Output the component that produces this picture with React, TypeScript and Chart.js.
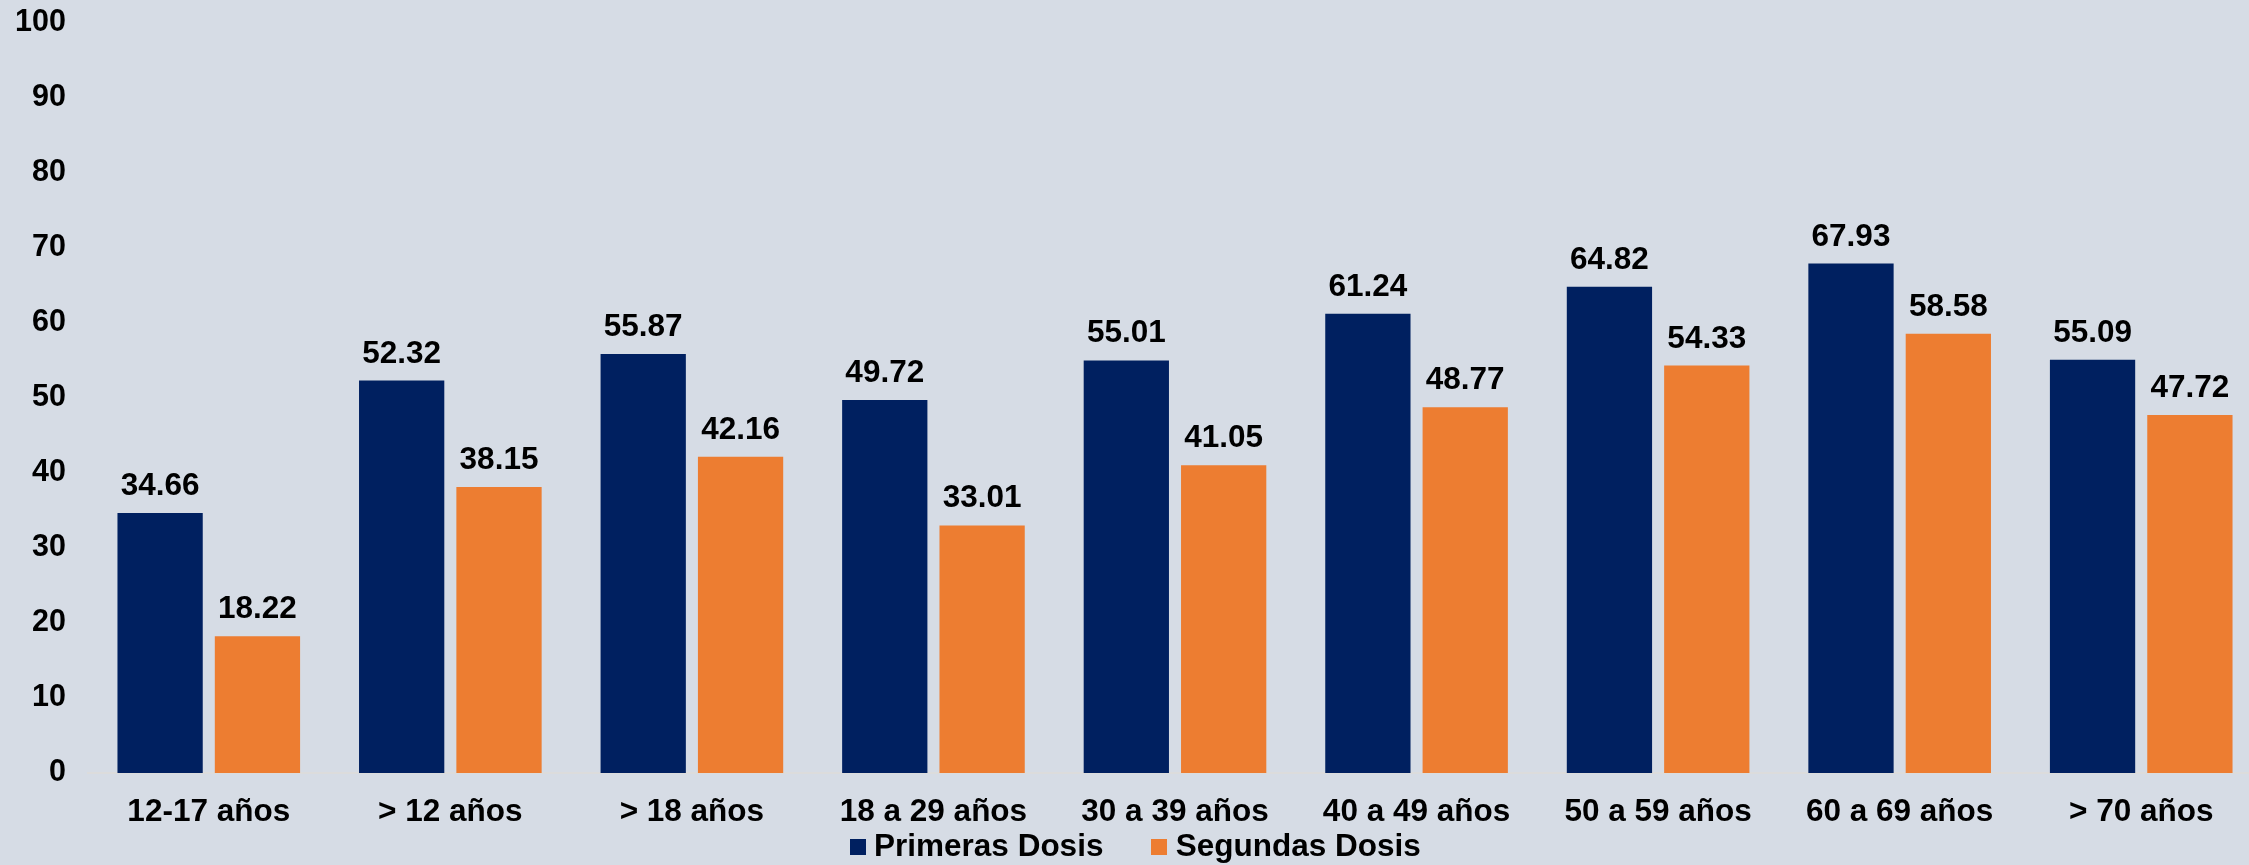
import React, { useEffect, useRef } from "react";
import { Chart, registerables } from "chart.js";

Chart.register(...registerables);

const categories = [
  "12-17 años",
  "> 12 años",
  "> 18 años",
  "18 a 29 años",
  "30 a 39 años",
  "40 a 49 años",
  "50 a 59 años",
  "60 a 69 años",
  "> 70 años",
];
const primerasDosis = [34.66, 52.32, 55.87, 49.72, 55.01, 61.24, 64.82, 67.93, 55.09];
const segundasDosis = [18.22, 38.15, 42.16, 33.01, 41.05, 48.77, 54.33, 58.58, 47.72];
const seriesNames = ["Primeras Dosis", "Segundas Dosis"];
const yMin = 0;
const yMax = 100;
const yStep = 10;

const FONT = "'Liberation Sans', Arial, Helvetica, sans-serif";
const NAVY = "#002060";
const ORANGE = "#ED7D31";
const BG = "#D6DCE5";
const seriesColors = [NAVY, ORANGE];

const CANVAS_W = 2262;
const CANVAS_H = 873;
const LEGEND_PAD = 55.5;
const FONT_SIZE = 31.5;
const PLOT_TOP = 23;
const PLOT_BOTTOM = 773;
const PAD_LEFT = 16;

const valueLabels = {
  id: "valueLabels",
  afterDatasetsDraw(chart: any) {
    const ctx = chart.ctx;
    ctx.save();
    ctx.font = `bold ${FONT_SIZE}px ${FONT}`;
    ctx.fillStyle = "#000000";
    ctx.textAlign = "center";
    ctx.textBaseline = "alphabetic";
    chart.data.datasets.forEach((ds: any, i: number) => {
      const meta = chart.getDatasetMeta(i);
      meta.data.forEach((bar: any, j: number) => {
        ctx.fillText(Number(ds.data[j]).toFixed(2), bar.x, bar.y - 18);
      });
    });
    ctx.restore();
  },
};

function makeMarker(color: string) {
  const c = document.createElement("canvas");
  c.width = 16;
  c.height = 16;
  const g = c.getContext("2d");
  if (g) {
    g.fillStyle = color;
    g.fillRect(0, 0, 16, 16);
  }
  return c;
}

export default function App() {
  const ref = useRef<HTMLCanvasElement | null>(null);

  useEffect(() => {
    if (!ref.current) return;
    const legendHeight = FONT_SIZE + LEGEND_PAD + 10;
    const legendTop = CANVAS_H - legendHeight;
    const markers = seriesColors.map(makeMarker);
    const chart = new Chart(ref.current, {
      type: "bar",
      data: {
        labels: categories,
        datasets: [
          {
            label: seriesNames[0],
            data: primerasDosis,
            backgroundColor: NAVY,
            categoryPercentage: 0.806,
            barPercentage: 0.876,
          },
          {
            label: seriesNames[1],
            data: segundasDosis,
            backgroundColor: ORANGE,
            categoryPercentage: 0.806,
            barPercentage: 0.876,
          },
        ],
      },
      options: {
        responsive: false,
        animation: false,
        devicePixelRatio: 1,
        layout: { padding: { top: PLOT_TOP, left: PAD_LEFT, right: 0, bottom: 0 } },
        plugins: {
          tooltip: { enabled: false },
          legend: {
            position: "bottom",
            labels: {
              usePointStyle: true,
              boxWidth: 1,
              boxHeight: 16,
              padding: LEGEND_PAD,
              color: "#000000",
              font: { family: FONT, size: FONT_SIZE, weight: "bold" },
              generateLabels: (ch: any) => {
                const items = (Chart as any).defaults.plugins.legend.labels.generateLabels(ch);
                return items.map((it: any, i: number) => ({ ...it, pointStyle: markers[i] }));
              },
            },
          },
        },
        scales: {
          x: {
            grid: { display: false, drawTicks: false, tickLength: 0 },
            border: { display: true, color: "#DCDCDC", width: 2 },
            ticks: {
              color: "#000000",
              padding: 20,
              maxRotation: 0,
              autoSkip: false,
              font: { family: FONT, size: FONT_SIZE, weight: "bold" },
            },
            afterFit: (s: any) => {
              s.height = legendTop - PLOT_BOTTOM;
              s.paddingLeft = 0;
              s.paddingRight = 0;
              s._computeLabelArea = () => undefined;
            },
          },
          y: {
            min: yMin,
            max: yMax,
            grid: { display: false, drawTicks: false, tickLength: 0 },
            border: { display: false },
            ticks: {
              stepSize: yStep,
              color: "#000000",
              padding: 22,
              font: { family: FONT, size: 30.5, weight: "bold" },
            },
            afterFit: (s: any) => {
              s.width = 88 - PAD_LEFT;
              s.paddingTop = 0;
              s.paddingBottom = 0;
            },
          },
        },
      },
      plugins: [valueLabels],
    });
    return () => chart.destroy();
  }, []);

  return (
    <div
      style={{
        position: "fixed",
        left: 0,
        top: 0,
        width: 2249,
        height: 865,
        overflow: "hidden",
        background: BG,
      }}
    >
      <canvas
        ref={ref}
        width={CANVAS_W}
        height={CANVAS_H}
        style={{ display: "block", width: CANVAS_W, height: CANVAS_H }}
      />
    </div>
  );
}
